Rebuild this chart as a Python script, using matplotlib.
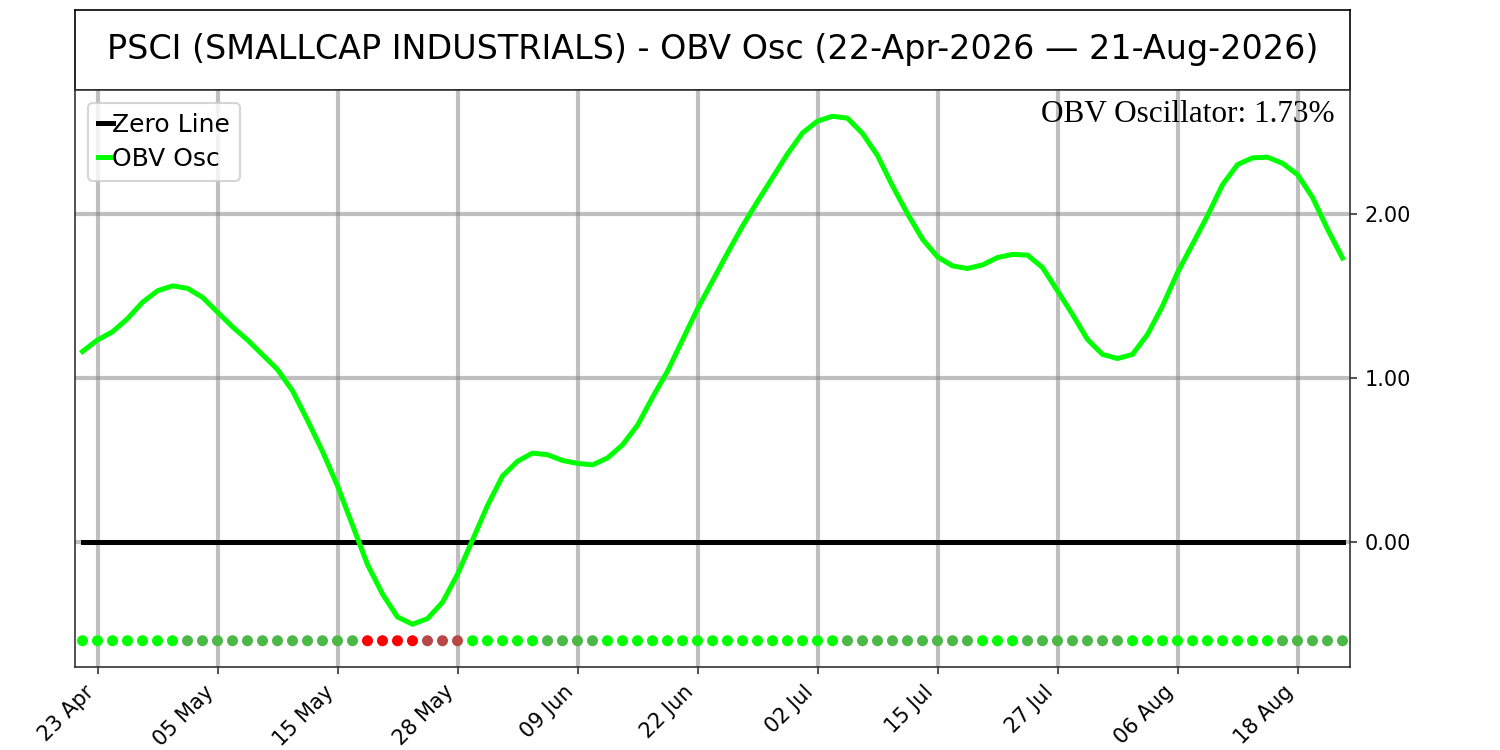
import matplotlib
matplotlib.use("Agg")
import matplotlib.pyplot as plt
import numpy as np
import pandas as pd

# trading days 22-Apr-2026 .. 21-Aug-2026 (US market holidays removed)
holidays = ["2026-05-25", "2026-06-19", "2026-07-03"]
dates = pd.bdate_range("2026-04-22", "2026-08-21", freq="C", holidays=holidays)

osc = np.array([
    1.16, 1.23, 1.28, 1.36, 1.46, 1.53, 1.56, 1.545, 1.49, 1.40,
    1.31, 1.23, 1.14, 1.05, 0.92, 0.74, 0.55, 0.34, 0.10, -0.14,
    -0.32, -0.46, -0.504, -0.47, -0.37, -0.20, 0.01, 0.22, 0.40, 0.49,
    0.54, 0.53, 0.495, 0.477, 0.468, 0.51, 0.59, 0.71, 0.88, 1.04,
    1.23, 1.42, 1.59, 1.76, 1.925, 2.075, 2.22, 2.365, 2.493, 2.565,
    2.595, 2.583, 2.49, 2.355, 2.17, 2.00, 1.845, 1.737, 1.682, 1.666,
    1.688, 1.733, 1.752, 1.748, 1.672, 1.53, 1.386, 1.233, 1.142, 1.117,
    1.142, 1.264, 1.437, 1.641, 1.814, 1.988, 2.177, 2.30, 2.341, 2.345,
    2.308, 2.239, 2.10, 1.906, 1.73,
])

title = "PSCI (SMALLCAP INDUSTRIALS) - OBV Osc (22-Apr-2026 \u2014 21-Aug-2026)"
tick_step = 8
ytick_vals = [0.0, 1.0, 2.0]

# dot colours: bright when rising, dull when falling
c_pos_up, c_pos_dn = "#00ff00", "#4cb848"
c_neg_dn, c_neg_up = "#ff0000", "#b84848"

x = np.arange(len(osc))
diff = np.diff(osc, prepend=osc[0] - 1)
colors = []
for v, d in zip(osc, diff):
    if v >= 0:
        colors.append(c_pos_up if d > 0 else c_pos_dn)
    else:
        colors.append(c_neg_up if d > 0 else c_neg_dn)

fig = plt.figure(figsize=(10, 5), dpi=150)

tax = fig.add_axes([0.05, 0.88, 0.85, 0.1067])
tax.set_xticks([])
tax.set_yticks([])
tax.text(0.5, 0.5, title, ha="center", va="center", fontsize=16, transform=tax.transAxes)

ax = fig.add_axes([0.05, 0.1107, 0.85, 0.7693])
ax.plot(x, np.zeros_like(osc), color="black", lw=2.4, label="Zero Line", zorder=3)
ax.plot(x, osc, color="lime", lw=2.4, label="OBV Osc", zorder=4)
ax.scatter(x, np.full(len(osc), osc.min() * 1.2), c=colors, s=28, zorder=5, linewidths=0)

ticks = x[1::tick_step]
ax.set_xticks(ticks)
ax.set_xticklabels([dates[i].strftime("%d %b") for i in ticks], rotation=45, ha="right")
ax.set_xlim(-0.5, len(osc) - 0.5)
ax.set_yticks(ytick_vals)
ax.yaxis.set_major_formatter(matplotlib.ticker.FormatStrFormatter("%.2f"))
ax.yaxis.tick_right()
ax.grid(color="gray", alpha=0.5, lw=2)

for s in ax.spines.values():
    s.set_color("#333333")
ax.tick_params(colors="#333333", labelcolor="black")

ax.text(0.988, 0.983, "OBV Oscillator: 1.73%", transform=ax.transAxes, ha="right", va="top",
        fontsize=15, family="Liberation Serif")

ax.legend(loc="upper left", fontsize=12, handlelength=0.6, handletextpad=0.0,
          borderpad=0.4, labelspacing=0.4)

fig.savefig("out.png", dpi=150)
